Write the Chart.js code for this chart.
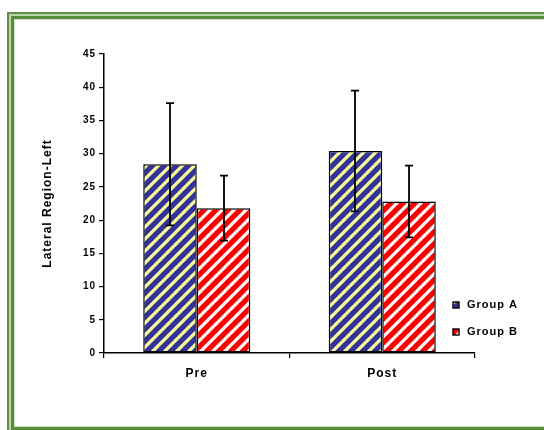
<!DOCTYPE html>
<html>
<head>
<meta charset="utf-8">
<script src="https://cdn.jsdelivr.net/npm/chart.js@4.4.1/dist/chart.umd.min.js"></script>
<style>
  html, body { margin: 0; padding: 0; background: #fff; overflow: hidden; }
  #wrap { position: relative; width: 544px; height: 430px; overflow: hidden; }
  .fr { position: absolute; box-sizing: border-box; width: 600px; }
  #frame1 { left: 7px; top: 12px; height: 422px; border: 2px solid #5f8f45; }
  #frame2 { left: 9px; top: 14px; height: 418px; border: 2px solid #b9d3ad; }
  #frame3 { left: 11px; top: 16px; height: 414px; border: 3px solid #5a8a3c; }
  #frame4 { left: 14px; top: 19px; height: 408px; border: 1px solid #cfe0c6; }
  canvas { position: absolute; left: 0; top: 0; }
</style>
</head>
<body>
<div id="wrap">
  <div class="fr" id="frame1"></div>
  <div class="fr" id="frame2"></div>
  <div class="fr" id="frame3"></div>
  <div class="fr" id="frame4"></div>
  <canvas id="c" width="544" height="430"></canvas>
</div>
<script>
const categories = ["Pre", "Post"];
const seriesNames = ["Group A", "Group B"];
const groupA = [28.4, 30.4];
const groupB = [21.8, 22.8];
const errA = [9.2, 9.1];
const errB = [4.9, 5.4];
const yTicks = [0, 5, 10, 15, 20, 25, 30, 35, 40, 45];
const yTitle = "Lateral Region-Left";

const FONT = '"Liberation Sans", Arial, sans-serif';

function stripePattern(bg, fg) {
  const s = 12;
  const c = document.createElement('canvas');
  c.width = s; c.height = s;
  const g = c.getContext('2d');
  g.fillStyle = bg; g.fillRect(0, 0, s, s);
  g.strokeStyle = fg; g.lineWidth = 3.2;
  g.beginPath();
  g.moveTo(-2, s + 2); g.lineTo(s + 2, -2);
  g.moveTo(-2, 2); g.lineTo(2, -2);
  g.moveTo(s - 2, s + 2); g.lineTo(s + 2, s - 2);
  g.stroke();
  return g.createPattern(c, 'repeat');
}
const ctx = document.getElementById('c').getContext('2d');
ctx.letterSpacing = '1px';
const patA = stripePattern('#333399', '#ffff99');
const patB = stripePattern('#ff0000', '#ffffff');
const errs = [errA, errB];

const spacing = {
  id: 'spacing',
  beforeUpdate(chart) { chart.ctx.letterSpacing = '1px'; },
  beforeDraw(chart) { chart.ctx.letterSpacing = '1px'; }
};

const errorBars = {
  id: 'errorBars',
  afterDatasetsDraw(chart) {
    const g = chart.ctx;
    const y = chart.scales.y;
    g.save();
    g.strokeStyle = '#000';
    g.lineWidth = 1.8;
    chart.data.datasets.forEach((ds, di) => {
      const meta = chart.getDatasetMeta(di);
      meta.data.forEach((bar, i) => {
        const v = ds.data[i], e = errs[di][i];
        const yt = y.getPixelForValue(v + e), yb = y.getPixelForValue(v - e);
        const x = Math.round(bar.x);
        g.beginPath();
        g.moveTo(x, yt); g.lineTo(x, yb);
        g.moveTo(x - 4, yt); g.lineTo(x + 4, yt);
        g.moveTo(x - 4, yb); g.lineTo(x + 4, yb);
        g.stroke();
      });
    });
    g.restore();
  }
};

const customLegend = {
  id: 'customLegend',
  afterDraw(chart) {
    const g = chart.ctx;
    const pats = [patA, patB];
    g.save();
    g.letterSpacing = '1px';
    g.font = 'bold 11px ' + FONT;
    g.textBaseline = 'middle';
    seriesNames.forEach((name, i) => {
      const x = 453, yc = 305 + i * 27;
      g.fillStyle = pats[i];
      g.fillRect(x, yc - 3, 6, 6);
      g.strokeStyle = '#000'; g.lineWidth = 1.4;
      g.strokeRect(x, yc - 3, 6, 6);
      g.fillStyle = '#000';
      g.fillText(name, 467, yc);
    });
    g.restore();
  }
};

new Chart(ctx, {
  type: 'bar',
  data: {
    labels: categories,
    datasets: [
      { label: seriesNames[0], data: groupA, backgroundColor: patA, borderColor: '#000', borderWidth: 1.5, borderSkipped: false },
      { label: seriesNames[1], data: groupB, backgroundColor: patB, borderColor: '#000', borderWidth: 1.5, borderSkipped: false }
    ]
  },
  options: {
    responsive: false,
    devicePixelRatio: 1,
    animation: false,
    categoryPercentage: 0.577,
    barPercentage: 1.0,
    layout: { padding: { left: 40, right: 69, top: 54, bottom: 40 } },
    plugins: { legend: { display: false }, tooltip: { enabled: false } },
    scales: {
      x: {
        grid: { offset: true, drawOnChartArea: false, tickLength: 5, color: '#000', lineWidth: 1.2 },
        border: { color: '#000', width: 1.5 },
        ticks: { color: '#000', padding: 8, font: { family: FONT, size: 12, weight: 'bold' } },
        afterFit(s) { s.height = 37; }
      },
      y: {
        min: 0, max: 45,
        afterBuildTicks(s) { s.ticks = yTicks.map(v => ({ value: v })); },
        grid: { drawOnChartArea: false, tickLength: 5, color: '#000', lineWidth: 1.2 },
        border: { color: '#000', width: 1.5 },
        ticks: { color: '#000', padding: 3, font: { family: FONT, size: 10, weight: 'bold' } },
        title: { display: true, text: yTitle, color: '#000', padding: 0, font: { family: FONT, size: 12, weight: 'bold' } },
        afterFit(s) { s.width = 64; }
      }
    }
  },
  plugins: [spacing, errorBars, customLegend]
});
</script>
</body>
</html>
